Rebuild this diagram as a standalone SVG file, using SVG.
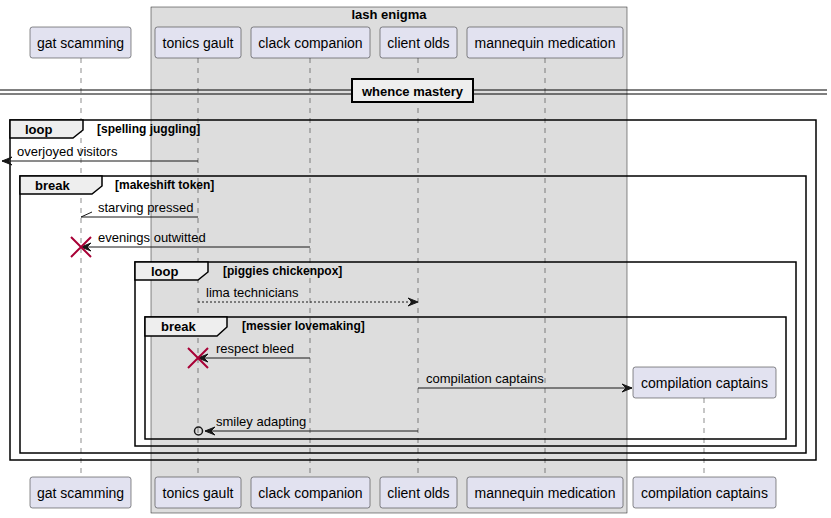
<svg xmlns="http://www.w3.org/2000/svg" width="831" height="518" viewBox="0 0 831 518">
<defs>
<style>
.p rect{fill:#E2E2F0;stroke:#181818;stroke-width:0.5}
.p text{font-family:"Liberation Sans",Arial,sans-serif;font-size:14px;fill:#000;text-anchor:middle}
.life{stroke:#181818;stroke-width:0.5;stroke-dasharray:5,5;fill:none}
.msg{stroke:#181818;stroke-width:1;fill:none}
.dash{stroke-dasharray:2,2}
.mt{font-family:"Liberation Sans",Arial,sans-serif;font-size:13px;fill:#000}
.fr{fill:none;stroke:#000;stroke-width:1.5}
.tab{fill:#EEEEEE;stroke:#000;stroke-width:1.5}
.fl{font-family:"Liberation Sans",Arial,sans-serif;font-size:13px;font-weight:bold;fill:#000}
.fc{font-family:"Liberation Sans",Arial,sans-serif;font-size:12px;font-weight:bold;fill:#000}
.x{stroke:#A80036;stroke-width:2}
</style>
<marker id="ah" markerUnits="userSpaceOnUse" markerWidth="12" markerHeight="10" refX="10" refY="4" orient="auto" overflow="visible">
<path d="M0,0 L10,4 L0,8 L4,4 Z" fill="#181818" stroke="#181818" stroke-width="1"/>
</marker>
</defs>
<rect width="831" height="518" fill="#FFFFFF"/>
<g id="box-lash-enigma">
<rect x="151" y="7" width="476" height="506" fill="#DDDDDD" stroke="#181818" stroke-width="0.5"/>
<text x="389" y="19" class="fl" text-anchor="middle">lash enigma</text>
</g>
<g id="lifelines">
<line class="life" x1="81" y1="58" x2="81" y2="477"/>
<line class="life" x1="198" y1="58" x2="198" y2="477"/>
<line class="life" x1="310" y1="58" x2="310" y2="477"/>
<line class="life" x1="418" y1="58" x2="418" y2="477"/>
<line class="life" x1="545" y1="58" x2="545" y2="477"/>
<line class="life" x1="704" y1="398" x2="704" y2="477"/>
</g>
<g id="p-gat-scamming" class="p">
<rect x="30" y="27" width="101" height="31" rx="2.5"/><text x="80.5" y="47.5">gat scamming</text>
<rect x="30" y="477" width="101" height="31" rx="2.5"/><text x="80.5" y="497.5">gat scamming</text>
</g>
<g id="p-tonics-gault" class="p">
<rect x="155" y="27" width="86" height="31" rx="2.5"/><text x="198" y="47.5">tonics gault</text>
<rect x="155" y="477" width="86" height="31" rx="2.5"/><text x="198" y="497.5">tonics gault</text>
</g>
<g id="p-clack-companion" class="p">
<rect x="251" y="27" width="119" height="31" rx="2.5"/><text x="310.5" y="47.5">clack companion</text>
<rect x="251" y="477" width="119" height="31" rx="2.5"/><text x="310.5" y="497.5">clack companion</text>
</g>
<g id="p-client-olds" class="p">
<rect x="380" y="27" width="77" height="31" rx="2.5"/><text x="418.5" y="47.5">client olds</text>
<rect x="380" y="477" width="77" height="31" rx="2.5"/><text x="418.5" y="497.5">client olds</text>
</g>
<g id="p-mannequin-medication" class="p">
<rect x="467" y="27" width="156" height="31" rx="2.5"/><text x="545" y="47.5">mannequin medication</text>
<rect x="467" y="477" width="156" height="31" rx="2.5"/><text x="545" y="497.5">mannequin medication</text>
</g>
<g id="p-compilation-captains" class="p">
<rect x="633" y="367" width="143" height="31" rx="2.5"/><text x="704.5" y="387.5">compilation captains</text>
<rect x="633" y="477" width="143" height="31" rx="2.5"/><text x="704.5" y="497.5">compilation captains</text>
</g>
<g id="divider-whence-mastery">
<line x1="0" y1="90" x2="827" y2="90" stroke="#000" stroke-width="1"/>
<line x1="0" y1="94" x2="827" y2="94" stroke="#000" stroke-width="1"/>
<rect x="352" y="79" width="121" height="23" fill="#EEEEEE" stroke="#000" stroke-width="2"/>
<text x="412.5" y="96" class="fl" text-anchor="middle">whence mastery</text>
</g>
<g id="frames">
<g id="loop-spelling-juggling">
<rect class="fr" x="10" y="120" width="806" height="340"/>
<path class="tab" d="M10,120 H83 V130 L73,138 H10 Z"/>
<text x="25" y="134" class="fl">loop</text>
<text x="97" y="133" class="fc">[spelling juggling]</text>
</g>
<g id="break-makeshift-token">
<rect class="fr" x="20" y="176" width="786" height="277"/>
<path class="tab" d="M20,176 H102 V186 L92,194 H20 Z"/>
<text x="35" y="190" class="fl">break</text>
<text x="115" y="189" class="fc">[makeshift token]</text>
</g>
<g id="loop-piggies-chickenpox">
<rect class="fr" x="135" y="262" width="661" height="184"/>
<path class="tab" d="M135,262 H208 V272 L198,280 H135 Z"/>
<text x="151" y="276" class="fl">loop</text>
<text x="223" y="275" class="fc">[piggies chickenpox]</text>
</g>
<g id="break-messier-lovemaking">
<rect class="fr" x="145" y="317" width="641" height="122"/>
<path class="tab" d="M145,317 H227 V327 L217,336 H145 Z"/>
<text x="161" y="331" class="fl">break</text>
<text x="242" y="330" class="fc">[messier lovemaking]</text>
</g>
</g>
<g id="connectors">
<line class="msg" x1="198" y1="161" x2="2" y2="161" marker-end="url(#ah)"/>
<text x="17" y="156" class="mt">overjoyed visitors</text>
<line class="msg" x1="198" y1="217" x2="81" y2="217"/>
<line class="msg" x1="81" y1="217" x2="92" y2="212"/>
<text x="98" y="212" class="mt">starving pressed</text>
<line class="msg" x1="310" y1="247" x2="81" y2="247" marker-end="url(#ah)"/>
<text x="98" y="242" class="mt">evenings outwitted</text>
<line class="msg dash" x1="198" y1="302" x2="418" y2="302" marker-end="url(#ah)"/>
<text x="206" y="297" class="mt">lima technicians</text>
<line class="msg" x1="310" y1="358" x2="198" y2="358" marker-end="url(#ah)"/>
<text x="216" y="353" class="mt">respect bleed</text>
<line class="msg" x1="418" y1="388" x2="632" y2="388" marker-end="url(#ah)"/>
<text x="426" y="383" class="mt">compilation captains</text>
<line class="msg" x1="418" y1="431" x2="205" y2="431" marker-end="url(#ah)"/>
<circle cx="198.5" cy="431" r="4" fill="none" stroke="#181818" stroke-width="1.5"/>
<text x="216" y="426" class="mt">smiley adapting</text>
</g>
<g id="destroy-marks">
<path class="x" d="M71,237 L91,257 M91,237 L71,257"/>
<path class="x" d="M188,348 L208,368 M208,348 L188,368"/>
</g>
</svg>
